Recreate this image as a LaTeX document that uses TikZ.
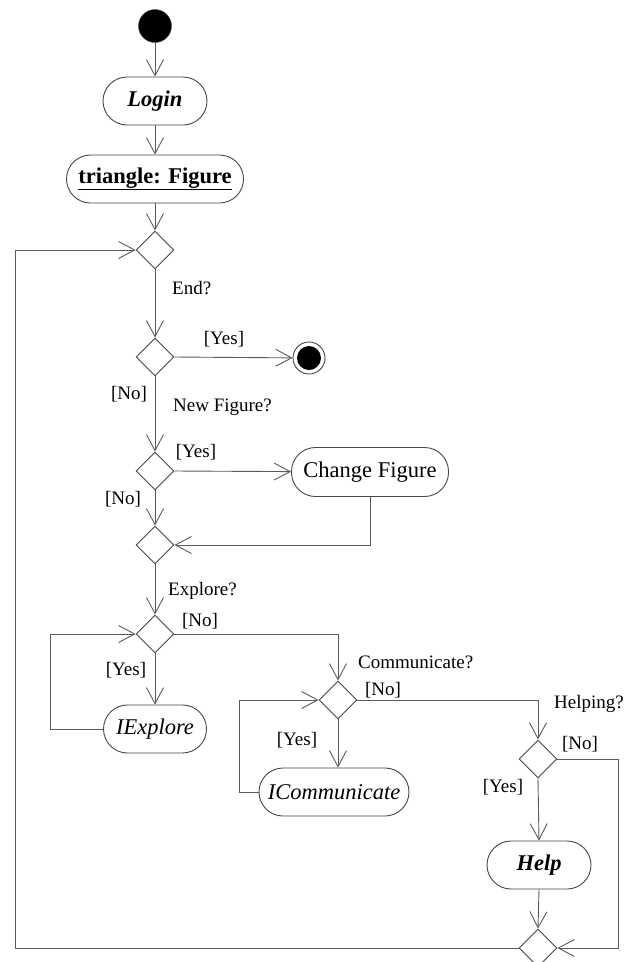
\documentclass[tikz,border=0pt]{standalone}
\usepackage{fontspec}
\setmainfont{Liberation Serif}
\usetikzlibrary{arrows.meta,shapes.geometric,calc}
\definecolor{linegray}{RGB}{90,90,90}
\definecolor{shapegray}{RGB}{70,70,70}
\tikzset{
  flow/.style={draw=linegray, line width=0.9pt, -{Straight Barb[length=16pt,width=17pt,line width=0.9pt]}},
  plain/.style={draw=linegray, line width=0.9pt},
  activity/.style={draw=shapegray, line width=0.9pt, rounded corners=24pt, minimum height=48pt,
    inner sep=0pt, font=\fontsize{22.5}{24}\selectfont},
  decision/.style={diamond, draw=shapegray, line width=0.9pt, minimum width=38pt, minimum height=38pt,
    inner sep=0pt},
  guard/.style={inner sep=0pt, font=\fontsize{19}{21}\selectfont},
}
\begin{document}
\begin{tikzpicture}[x=1pt, y=-1pt]
\useasboundingbox (0,0) rectangle (638,962);
% start and end states
\node[circle, fill=black, draw=shapegray, minimum size=33pt, inner sep=0pt] (start) at (155,26) {};
\node[circle, draw=shapegray, line width=0.9pt, minimum size=32pt, inner sep=0pt] (stop) at (309,358) {};
\node[circle, fill=black, minimum size=24pt, inner sep=0pt] (stopdot) at (309,358) {};
% activities
\node[activity, minimum width=104pt] (login) at (155,101) {\textbf{\textit{Login}}};
\node[activity, minimum width=177pt] (figure) at (155,179) {\underline{\textbf{triangle: Figure}}};
\node[activity, minimum width=157pt, minimum height=49pt] (change) at (370,472) {Change Figure};
\node[activity, minimum width=103pt] (explore) at (155,729) {\textit{IExplore}};
\node[activity, minimum width=150pt] (comm) at (334,792) {\textit{ICommunicate}};
\node[activity, minimum width=104pt] (help) at (539,865) {\textbf{\textit{Help}}};
% decisions
\node[decision] (d1) at (155,250) {};
\node[decision] (d2) at (155,357) {};
\node[decision] (d3) at (155,471) {};
\node[decision] (d4) at (155,545) {};
\node[decision] (d5) at (155,634) {};
\node[decision] (d6) at (338,700) {};
\node[decision] (d7) at (538,759) {};
\node[decision] (d8) at (538,948) {};
% loop corners
\coordinate (cf) at (50,729);
\coordinate (cc) at (239,792);
\coordinate (ch) at (618,759);
\coordinate (bl) at (15,948);
% connectors
\draw[flow] (start) -- (login);
\draw[flow] (login) -- (figure);
\draw[flow] (figure) -- (d1.north);
\draw[flow] (d1.south) -- (d2.north);
\draw[flow] (d2.east) -- (stop);
\draw[flow] (d2.south) -- (d3.north);
\draw[flow] (d3.east) -- (change);
\draw[flow] (d3.south) -- (d4.north);
\draw[flow] (change.south) |- (d4.east);
\draw[flow] (d4.south) -- (d5.north);
\draw[flow] (d5.south) -- (explore.north);
\draw[flow] (explore.west) -- (cf) |- (d5.west);
\draw[flow] (d5.east) -| (d6.north);
\draw[flow] (d6.south) -- (d6.south |- comm.north);
\draw[flow] (comm.west) -- (cc) |- (d6.west);
\draw[flow] (d6.east) -| (d7.north);
\draw[flow] (d7.south) -- (help.north);
\draw[flow] (d7.east) -- (ch) |- (d8.east);
\draw[flow] (help.south) -- (d8.north);
\draw[flow] (d8.west) -- (bl) |- (d1.west);
% guards and questions
\node[guard, anchor=west] (qend) at (172,288) {End?};
\node[guard] (g2y) at (224,339) {[Yes]};
\node[guard] (g2n) at (129,394) {[No]};
\node[guard, anchor=west] (qnew) at (173,407) {New Figure?};
\node[guard] (g3y) at (196,452) {[Yes]};
\node[guard] (g3n) at (123,499) {[No]};
\node[guard, anchor=west] (qexp) at (168,591) {Explore?};
\node[guard] (g5n) at (200,621) {[No]};
\node[guard] (g5y) at (126,670) {[Yes]};
\node[guard, anchor=west] (qcom) at (358,662) {Communicate?};
\node[guard] (g6n) at (383,690) {[No]};
\node[guard] (g6y) at (297,740) {[Yes]};
\node[guard, anchor=west] (qhelp) at (554,704) {Helping?};
\node[guard] (g7n) at (580,744) {[No]};
\node[guard] (g7y) at (503,787) {[Yes]};
\end{tikzpicture}
\end{document}
